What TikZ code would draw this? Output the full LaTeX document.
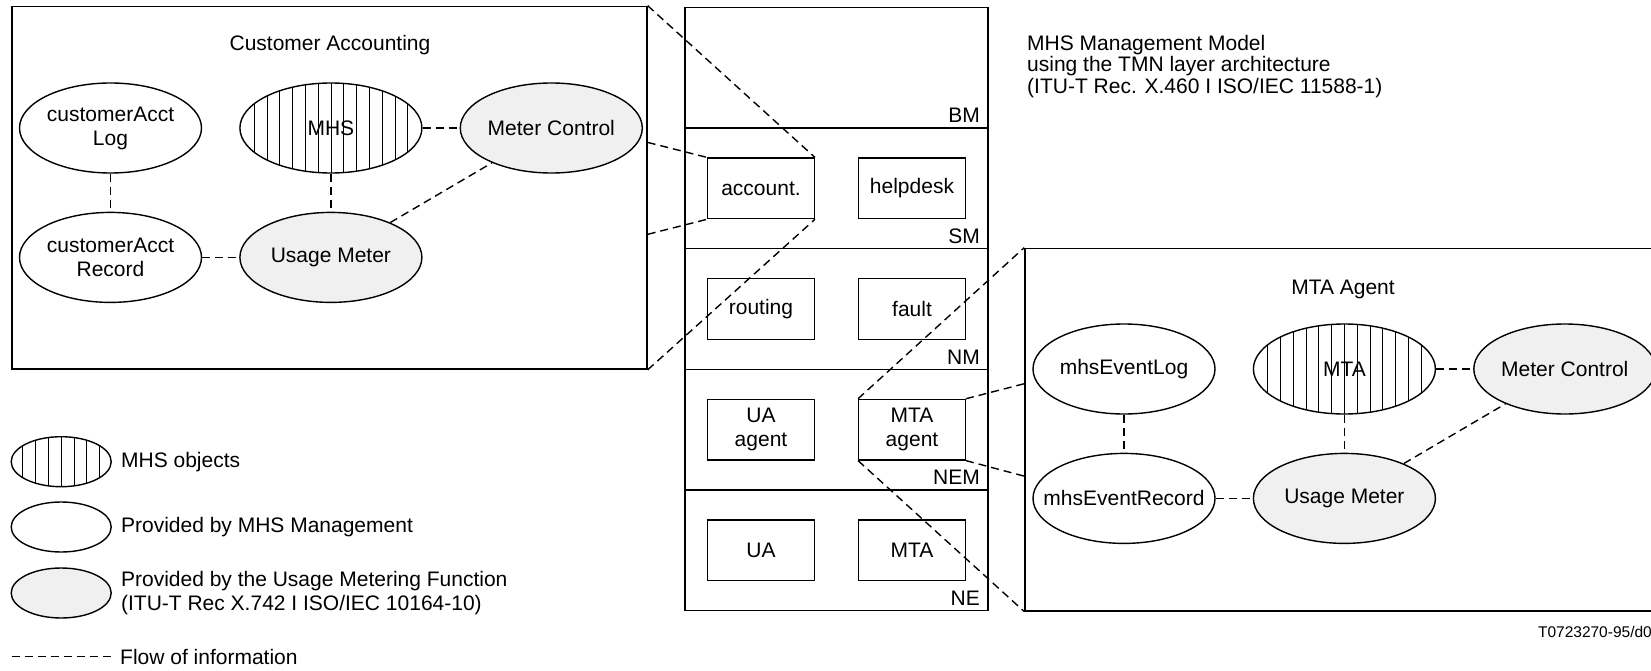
\documentclass[tikz,border=0pt]{standalone}
\usepackage{fontspec}
\setmainfont{Liberation Sans}
\usepackage{tikz}
\usetikzlibrary{shapes.geometric}
\usetikzlibrary{positioning}
\definecolor{meterfill}{gray}{0.94}
\tikzset{%
  mhsobj/.style={ellipse,draw,line width=1.4pt,inner ysep=0pt,inner xsep=-20pt,minimum width=182pt,minimum height=90pt,align=center}
}
\tikzset{%
  hatchobj/.style={mhsobj,path picture={\foreach \k in {-#1,...,#1}
      \draw[line width=0.8pt] ([xshift={\k*12.8pt}]path picture bounding box.north) -- ([xshift={\k*12.8pt}]path picture bounding box.south);}},
  meterobj/.style={mhsobj,fill=meterfill}
}
\tikzset{%
  funcbox/.style={rectangle,draw,line width=1.4pt,inner sep=0pt,minimum width=106.5pt,minimum height=60.5pt,align=center},
  layerbox/.style={rectangle,draw,line width=1.6pt,minimum width=303.5pt,minimum height=120.66pt},
  panelbox/.style={rectangle,draw,line width=1.6pt},
  flow/.style={line width=1.4pt,dash pattern=on 8pt off 5pt}
}
\newcommand\figfont{\fontsize{21}{24}\selectfont}

\begin{document}
\begin{tikzpicture}[x=1pt,y=-1pt,font=\figfont,node distance=38pt and 37pt]
            \path[use as bounding box] (0,0) rectangle (1651,671);
            \clip (0,0) rectangle (1651,671);

            \node[panelbox,minimum width=635pt,minimum height=362.5pt](acct) at (329.4,187.75){};
            \node(accttitle) at (330,45){Customer Accounting};
            \node[mhsobj](calog) at (110.5,128){customerAcct\\Log};
            \node[hatchobj=6,right=of calog](mhs){MHS};
            \node[meterobj,right=of mhs](cmc){Meter Control};
            \node[mhsobj,below=of calog](carec){customerAcct\\Record};
            \node[meterobj,below=of mhs](cum){Usage Meter};
            \draw[flow] (calog) -- (carec);
            \draw[flow] (mhs) -- (cum);
            \draw[flow] (mhs) -- (cmc);
            \draw[flow] (carec) -- (cum);
            \draw[flow] (cum) -- (cmc);

            \foreach \lay [count=\i] in {BM,SM,NM,NEM,NE} {
                \node[layerbox](\lay) at (836.5,{67.7+(\i-1)*120.66}){};
                \node[anchor=base east,inner sep=0pt](lbl\lay) at ([xshift=-9pt,yshift=6pt]\lay.south east){\lay};
            }
            \node[funcbox,xshift=-75.5pt](accbox) at (SM){account.};
            \node[funcbox,xshift=75.5pt](helpbox) at (SM){helpdesk};
            \node[funcbox,xshift=-75.5pt](routbox) at (NM){routing};
            \node[funcbox,xshift=75.5pt](faultbox) at (NM){fault};
            \node[funcbox,xshift=-75.5pt](uaagbox) at (NEM){UA\\agent};
            \node[funcbox,xshift=75.5pt](mtaagbox) at (NEM){MTA\\agent};
            \node[funcbox,xshift=-75.5pt](uabox) at (NE){UA};
            \node[funcbox,xshift=75.5pt](mtabox) at (NE){MTA};

            \node[anchor=north west,inner sep=0pt,align=left,font=\fontsize{21}{21.5}\selectfont](modeltxt) at (1027,35){MHS Management Model\\using the TMN layer architecture\\(ITU-T Rec. X.460 I ISO/IEC 11588-1)};

            \path (acct.east |- accbox.north west) ++(0,-15) coordinate (acctup);
            \path (acct.east |- accbox.south west) ++(0,15) coordinate (acctdn);
            \draw[flow] (acct.north east) -- (accbox.north east);
            \draw[flow] (acct.south east) -- (accbox.south east);
            \draw[flow] (acctup) -- (accbox.north west);
            \draw[flow] (acctdn) -- (accbox.south west);

            \node[panelbox,minimum width=675pt,minimum height=362.2pt](mtapanel) at (1362.5,429.6){};
            \node(mtatitle) at (1343,289){MTA Agent};
            \node[mhsobj](evlog) at (1124,369){mhsEventLog};
            \node[hatchobj=6,right=of evlog](mta){MTA};
            \node[meterobj,right=of mta](mmc){Meter Control};
            \node[mhsobj,below=of evlog](evrec){mhsEventRecord};
            \node[meterobj,below=of mta](mum){Usage Meter};
            \draw[flow] (evlog) -- (evrec);
            \draw[flow] (mta) -- (mum);
            \draw[flow] (mta) -- (mmc);
            \draw[flow] (evrec) -- (mum);
            \draw[flow] (mum) -- (mmc);

            \path (mtapanel.west |- mtaagbox.north east) ++(0,-15) coordinate (mtaup);
            \path (mtapanel.west |- mtaagbox.south east) ++(0,15.5) coordinate (mtadn);
            \draw[flow] (mtaagbox.north west) -- (mtapanel.north west);
            \draw[flow] (mtaagbox.south west) -- (mtapanel.south west);
            \draw[flow] (mtaagbox.north east) -- (mtaup);
            \draw[flow] (mtaagbox.south east) -- (mtadn);
            \node[anchor=east,inner sep=0pt,font=\fontsize{15.5}{18}\selectfont](figref) at (1652,631.7){T0723270-95/d0};

            \node[hatchobj=3,minimum width=100pt,minimum height=50pt](legmhs) at (61.2,461.7){};
            \node[right=9pt of legmhs,inner sep=0pt](legmhstxt){MHS objects};
            \node[mhsobj,minimum width=100pt,minimum height=50pt](legmgmt) at (61.2,527){};
            \node[right=9pt of legmgmt,inner sep=0pt](legmgmttxt){Provided by MHS Management};
            \node[meterobj,minimum width=100pt,minimum height=50pt](legmeter) at (61.2,593){};
            \node[right=9pt of legmeter,inner sep=0pt,align=left](legmetertxt){Provided by the Usage Metering Function\\(ITU-T Rec X.742 I ISO/IEC 10164-10)};
            \coordinate (flowa) at (11.5,656.7);
            \coordinate (flowb) at (111,656.7);
            \draw[flow] (flowa) -- (flowb);
            \node[right=9pt of flowb,inner sep=0pt](flowtxt){Flow of information};
        \end{tikzpicture}
\end{document}
